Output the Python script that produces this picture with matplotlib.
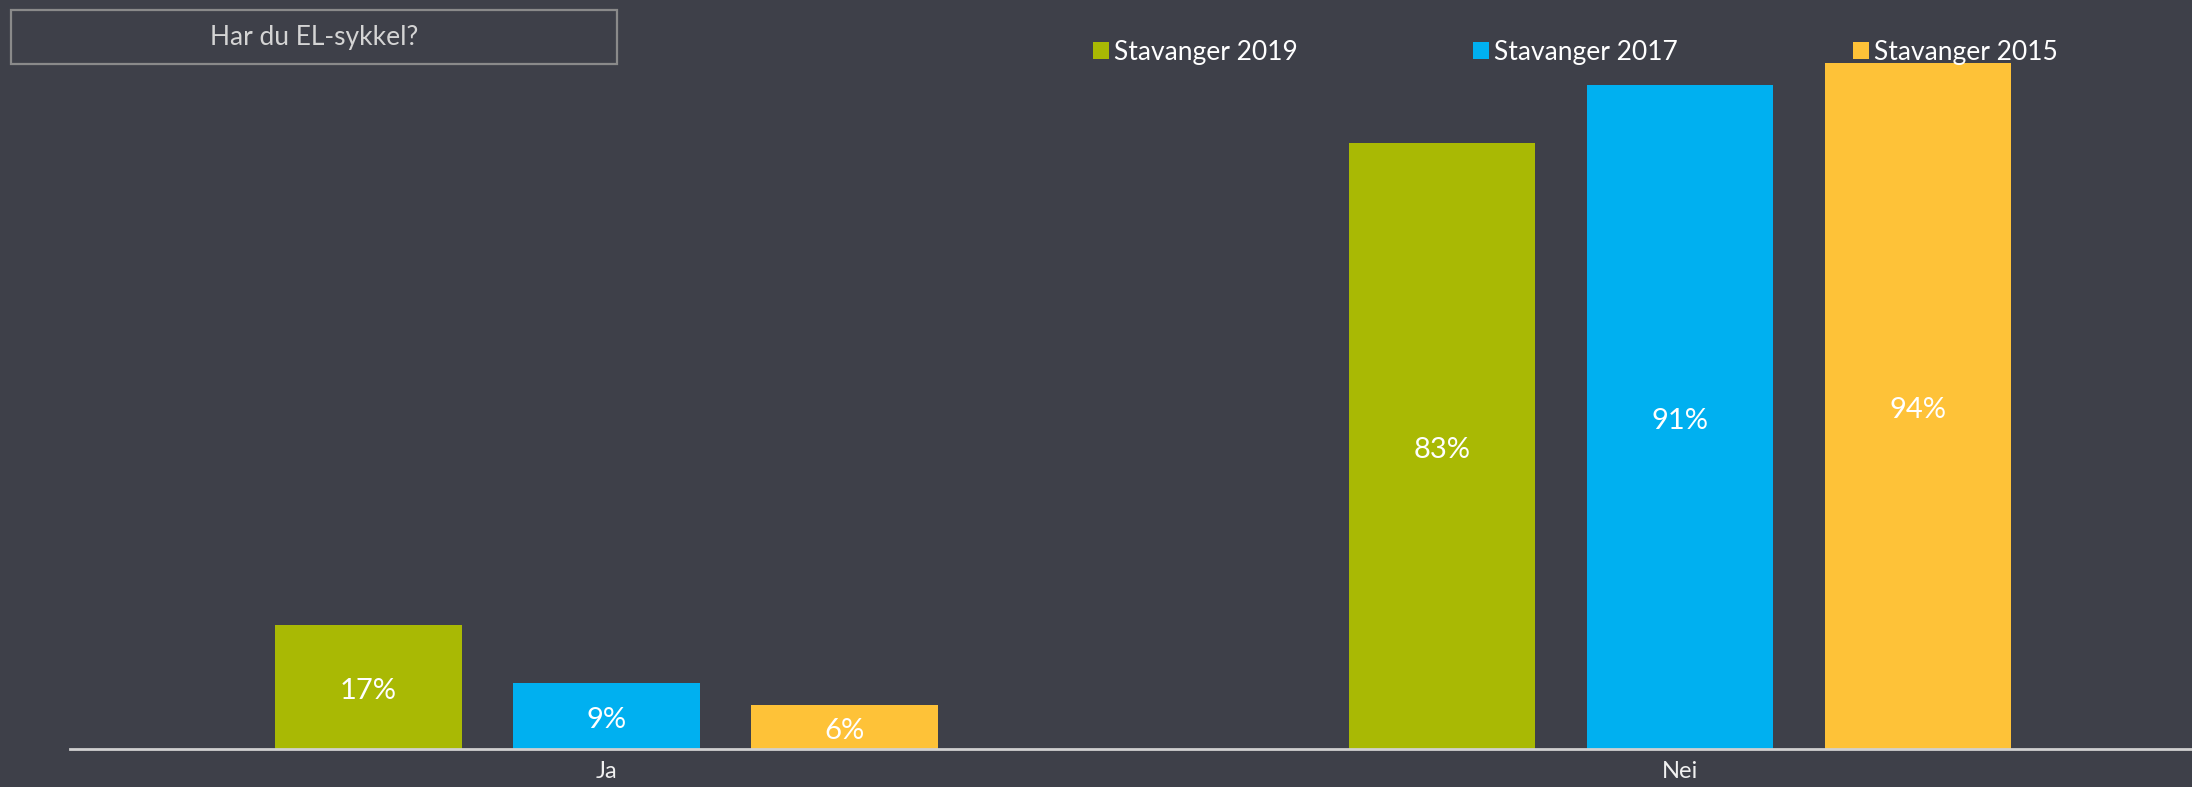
import matplotlib
matplotlib.use("Agg")
import matplotlib.pyplot as plt
from matplotlib.patches import Rectangle
import numpy as np

plt.rcParams['font.family'] = ['Lato', 'DejaVu Sans']

categories = ["Ja", "Nei"]
series_names = ["Stavanger 2019", "Stavanger 2017", "Stavanger 2015"]
values_2019 = [17, 83]
values_2017 = [9, 91]
values_2015 = [6, 94]
series_values = [values_2019, values_2017, values_2015]
colors = ["#a9b904", "#00b0f0", "#fec238"]
title_text = "Har du EL-sykkel?"

BG = "#3e4049"
W, H = 2192, 787
fig = plt.figure(figsize=(W / 100, H / 100), dpi=100, facecolor=BG)
ax = fig.add_axes([70 / W, (H - 749) / H, 1 - 70 / W, 749 / H])
ax.set_facecolor(BG)

x = np.arange(len(categories))
offset = 0.2218
width = 0.174
bars = []
for i, (name, vals, col) in enumerate(zip(series_names, series_values, colors)):
    b = ax.bar(x + (i - 1) * offset, vals, width, color=col, label=name, zorder=2)
    bars.append(b)
    ax.bar_label(b, labels=[f"{v}%" for v in vals], label_type='center',
                 color='white', fontsize=21, padding=-3)

ax.set_xlim(-0.5, 1.477)
ax.set_ylim(0, 102.6)
for s in ["top", "right", "left"]:
    ax.spines[s].set_visible(False)
ax.spines["bottom"].set_color("#d0d0d0")
ax.spines["bottom"].set_linewidth(2)
ax.spines["bottom"].set_zorder(3)
ax.set_yticks([])
ax.set_xticks(x)
ax.set_xticklabels(categories, color="#f0f0f0", fontsize=17)
ax.tick_params(axis='x', length=0, pad=9)

fs_leg = 19
fs_px = fs_leg * 100 / 72
leg = ax.legend(handles=bars, labels=series_names, loc='upper left', ncol=3,
                bbox_to_anchor=(1093 / W, 1 - 40 / H), bbox_transform=fig.transFigure,
                frameon=False, fontsize=fs_leg, handlelength=16 / fs_px,
                handleheight=16 / fs_px, handletextpad=5 / fs_px,
                columnspacing=175 / fs_px, borderpad=0, borderaxespad=0,
                labelcolor='white')

# title box
fig.patches.append(Rectangle((11 / W, 1 - 64 / H), (617 - 11) / W, (64 - 10) / H,
                             transform=fig.transFigure, fill=False,
                             edgecolor="#8a8a8a", linewidth=1.6))
fig.text(314 / W, 1 - 38 / H, title_text, ha='center', va='center',
         color="#d4d4d4", fontsize=19)

fig.savefig("out.png", dpi=100, facecolor=BG)
